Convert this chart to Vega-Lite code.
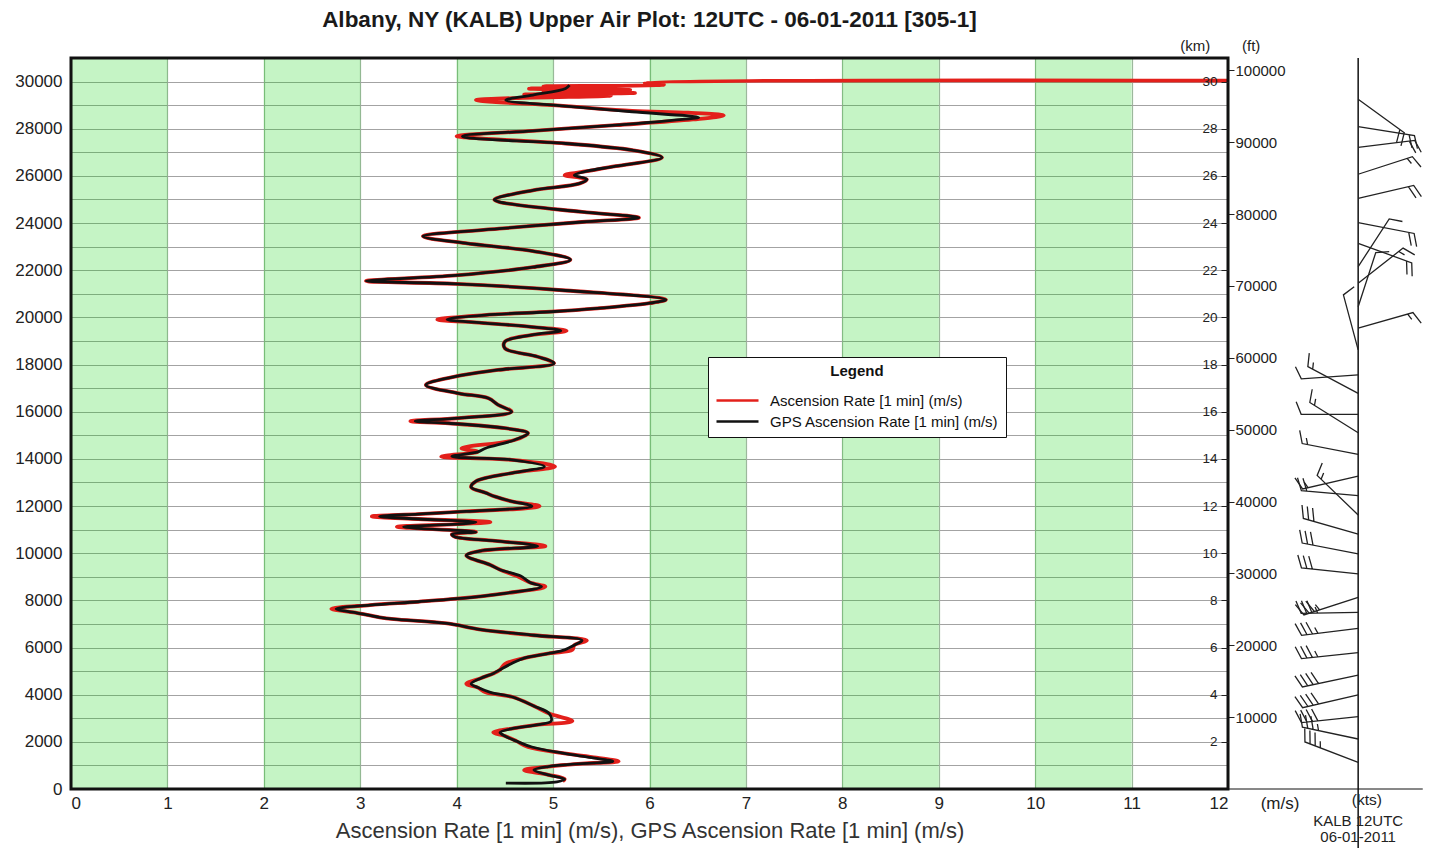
{
  "$schema": "https://vega.github.io/schema/vega-lite/v6.json",
  "width": 1157,
  "height": 731,
  "autosize": {"type": "none"},
  "padding": {"left": 71, "top": 58, "right": 201, "bottom": 59},
  "background": "white",
  "title": {
    "text": "Albany, NY (KALB) Upper Air Plot: 12UTC - 06-01-2011 [305-1]",
    "font": "Liberation Sans",
    "fontSize": 22.5,
    "fontWeight": "bold",
    "color": "#1a1a1a",
    "anchor": "middle",
    "frame": "group",
    "baseline": "alphabetic",
    "offset": 9,
    "dy": 19
  },
  "datasets": {
    "one": [{}],
    "bands": [
      {"from": 0, "to": 1}, {"from": 2, "to": 3}, {"from": 4, "to": 5},
      {"from": 6, "to": 7}, {"from": 8, "to": 9}, {"from": 10, "to": 11}
    ],
    "profile": [
      {"s": "asc", "rate": 5.10, "alt": 330}, {"s": "asc", "rate": 5.12, "alt": 420}, {"s": "asc", "rate": 4.95, "alt": 600}, {"s": "asc", "rate": 4.70, "alt": 800},
      {"s": "asc", "rate": 4.95, "alt": 950}, {"s": "asc", "rate": 5.30, "alt": 1080}, {"s": "asc", "rate": 5.68, "alt": 1170}, {"s": "asc", "rate": 5.45, "alt": 1330},
      {"s": "asc", "rate": 5.10, "alt": 1520}, {"s": "asc", "rate": 4.74, "alt": 1780}, {"s": "asc", "rate": 4.62, "alt": 2030}, {"s": "asc", "rate": 4.50, "alt": 2250},
      {"s": "asc", "rate": 4.38, "alt": 2400}, {"s": "asc", "rate": 4.60, "alt": 2580}, {"s": "asc", "rate": 4.85, "alt": 2730}, {"s": "asc", "rate": 5.20, "alt": 2880},
      {"s": "asc", "rate": 4.96, "alt": 3200}, {"s": "asc", "rate": 4.80, "alt": 3520}, {"s": "asc", "rate": 4.58, "alt": 3900}, {"s": "asc", "rate": 4.30, "alt": 4100},
      {"s": "asc", "rate": 4.22, "alt": 4300}, {"s": "asc", "rate": 4.10, "alt": 4460}, {"s": "asc", "rate": 4.25, "alt": 4700}, {"s": "asc", "rate": 4.38, "alt": 4900},
      {"s": "asc", "rate": 4.45, "alt": 5060}, {"s": "asc", "rate": 4.50, "alt": 5300}, {"s": "asc", "rate": 4.70, "alt": 5550}, {"s": "asc", "rate": 4.97, "alt": 5760},
      {"s": "asc", "rate": 5.20, "alt": 5900}, {"s": "asc", "rate": 5.22, "alt": 6100}, {"s": "asc", "rate": 5.35, "alt": 6300}, {"s": "asc", "rate": 4.80, "alt": 6520},
      {"s": "asc", "rate": 4.25, "alt": 6760}, {"s": "asc", "rate": 3.90, "alt": 7020}, {"s": "asc", "rate": 3.35, "alt": 7200}, {"s": "asc", "rate": 3.20, "alt": 7280},
      {"s": "asc", "rate": 2.95, "alt": 7480}, {"s": "asc", "rate": 2.70, "alt": 7640}, {"s": "asc", "rate": 3.10, "alt": 7800}, {"s": "asc", "rate": 3.60, "alt": 7940},
      {"s": "asc", "rate": 4.00, "alt": 8070}, {"s": "asc", "rate": 4.50, "alt": 8300}, {"s": "asc", "rate": 4.92, "alt": 8580}, {"s": "asc", "rate": 4.76, "alt": 8760},
      {"s": "asc", "rate": 4.62, "alt": 9040}, {"s": "asc", "rate": 4.45, "alt": 9300}, {"s": "asc", "rate": 4.35, "alt": 9500}, {"s": "asc", "rate": 4.10, "alt": 9900},
      {"s": "asc", "rate": 4.25, "alt": 10100}, {"s": "asc", "rate": 4.92, "alt": 10300}, {"s": "asc", "rate": 4.40, "alt": 10520}, {"s": "asc", "rate": 3.98, "alt": 10700},
      {"s": "asc", "rate": 3.95, "alt": 10800}, {"s": "asc", "rate": 4.20, "alt": 10900}, {"s": "asc", "rate": 3.60, "alt": 11050}, {"s": "asc", "rate": 3.38, "alt": 11120},
      {"s": "asc", "rate": 4.00, "alt": 11230}, {"s": "asc", "rate": 4.35, "alt": 11320}, {"s": "asc", "rate": 3.60, "alt": 11450}, {"s": "asc", "rate": 3.12, "alt": 11560},
      {"s": "asc", "rate": 3.60, "alt": 11660}, {"s": "asc", "rate": 4.10, "alt": 11770}, {"s": "asc", "rate": 4.86, "alt": 11990}, {"s": "asc", "rate": 4.57, "alt": 12200},
      {"s": "asc", "rate": 4.40, "alt": 12400}, {"s": "asc", "rate": 4.30, "alt": 12560}, {"s": "asc", "rate": 4.15, "alt": 12800}, {"s": "asc", "rate": 4.20, "alt": 13050},
      {"s": "asc", "rate": 4.57, "alt": 13400}, {"s": "asc", "rate": 5.02, "alt": 13680}, {"s": "asc", "rate": 4.57, "alt": 13960}, {"s": "asc", "rate": 3.84, "alt": 14100},
      {"s": "asc", "rate": 4.22, "alt": 14300}, {"s": "asc", "rate": 4.05, "alt": 14450}, {"s": "asc", "rate": 4.60, "alt": 14800}, {"s": "asc", "rate": 4.74, "alt": 15090},
      {"s": "asc", "rate": 4.50, "alt": 15300}, {"s": "asc", "rate": 3.92, "alt": 15510}, {"s": "asc", "rate": 3.52, "alt": 15600}, {"s": "asc", "rate": 4.02, "alt": 15730},
      {"s": "asc", "rate": 4.57, "alt": 16000}, {"s": "asc", "rate": 4.43, "alt": 16290}, {"s": "asc", "rate": 4.33, "alt": 16570}, {"s": "asc", "rate": 4.02, "alt": 16780},
      {"s": "asc", "rate": 3.68, "alt": 17135}, {"s": "asc", "rate": 3.98, "alt": 17490}, {"s": "asc", "rate": 4.43, "alt": 17770}, {"s": "asc", "rate": 5.01, "alt": 18050},
      {"s": "asc", "rate": 4.84, "alt": 18330}, {"s": "asc", "rate": 4.50, "alt": 18690}, {"s": "asc", "rate": 4.50, "alt": 18970}, {"s": "asc", "rate": 4.77, "alt": 19250},
      {"s": "asc", "rate": 5.14, "alt": 19430}, {"s": "asc", "rate": 4.77, "alt": 19600}, {"s": "asc", "rate": 4.26, "alt": 19770}, {"s": "asc", "rate": 3.80, "alt": 19910},
      {"s": "asc", "rate": 4.29, "alt": 20100}, {"s": "asc", "rate": 4.98, "alt": 20240}, {"s": "asc", "rate": 5.46, "alt": 20380}, {"s": "asc", "rate": 6.00, "alt": 20600},
      {"s": "asc", "rate": 6.17, "alt": 20750}, {"s": "asc", "rate": 5.13, "alt": 21140}, {"s": "asc", "rate": 3.99, "alt": 21425}, {"s": "asc", "rate": 3.06, "alt": 21540},
      {"s": "asc", "rate": 3.99, "alt": 21780}, {"s": "asc", "rate": 4.79, "alt": 22130}, {"s": "asc", "rate": 5.18, "alt": 22445}, {"s": "asc", "rate": 4.79, "alt": 22813},
      {"s": "asc", "rate": 4.09, "alt": 23150}, {"s": "asc", "rate": 3.65, "alt": 23436}, {"s": "asc", "rate": 4.44, "alt": 23760}, {"s": "asc", "rate": 5.30, "alt": 24045},
      {"s": "asc", "rate": 5.89, "alt": 24230}, {"s": "asc", "rate": 5.30, "alt": 24470}, {"s": "asc", "rate": 4.44, "alt": 24895}, {"s": "asc", "rate": 4.39, "alt": 24994},
      {"s": "asc", "rate": 4.79, "alt": 25390}, {"s": "asc", "rate": 5.27, "alt": 25674}, {"s": "asc", "rate": 5.35, "alt": 25850}, {"s": "asc", "rate": 5.12, "alt": 26030},
      {"s": "asc", "rate": 5.35, "alt": 26200}, {"s": "asc", "rate": 5.65, "alt": 26410}, {"s": "asc", "rate": 6.13, "alt": 26780}, {"s": "asc", "rate": 5.82, "alt": 27090},
      {"s": "asc", "rate": 5.13, "alt": 27374}, {"s": "asc", "rate": 4.09, "alt": 27630}, {"s": "asc", "rate": 4.00, "alt": 27686}, {"s": "asc", "rate": 4.79, "alt": 27912},
      {"s": "asc", "rate": 5.65, "alt": 28150}, {"s": "asc", "rate": 6.45, "alt": 28394}, {"s": "asc", "rate": 6.77, "alt": 28560}, {"s": "asc", "rate": 6.40, "alt": 28680},
      {"s": "asc", "rate": 5.82, "alt": 28760}, {"s": "asc", "rate": 5.13, "alt": 28960}, {"s": "asc", "rate": 4.20, "alt": 29215}, {"s": "asc", "rate": 4.60, "alt": 29300},
      {"s": "asc", "rate": 5.60, "alt": 29400}, {"s": "asc", "rate": 4.70, "alt": 29450}, {"s": "asc", "rate": 5.85, "alt": 29520}, {"s": "asc", "rate": 4.90, "alt": 29580},
      {"s": "asc", "rate": 5.80, "alt": 29640}, {"s": "asc", "rate": 4.75, "alt": 29700}, {"s": "asc", "rate": 5.40, "alt": 29760}, {"s": "asc", "rate": 4.90, "alt": 29800},
      {"s": "asc", "rate": 6.15, "alt": 29870}, {"s": "asc", "rate": 5.95, "alt": 29960}, {"s": "asc", "rate": 12.0, "alt": 30040},

      {"s": "gps", "rate": 4.51, "alt": 250}, {"s": "gps", "rate": 5.04, "alt": 300}, {"s": "gps", "rate": 5.12, "alt": 420}, {"s": "gps", "rate": 4.95, "alt": 600},
      {"s": "gps", "rate": 4.80, "alt": 800}, {"s": "gps", "rate": 4.95, "alt": 950}, {"s": "gps", "rate": 5.30, "alt": 1080}, {"s": "gps", "rate": 5.62, "alt": 1170},
      {"s": "gps", "rate": 5.40, "alt": 1330}, {"s": "gps", "rate": 5.10, "alt": 1520}, {"s": "gps", "rate": 4.78, "alt": 1780}, {"s": "gps", "rate": 4.62, "alt": 2030},
      {"s": "gps", "rate": 4.50, "alt": 2250}, {"s": "gps", "rate": 4.45, "alt": 2400}, {"s": "gps", "rate": 4.60, "alt": 2580}, {"s": "gps", "rate": 4.85, "alt": 2730},
      {"s": "gps", "rate": 4.98, "alt": 2880}, {"s": "gps", "rate": 4.96, "alt": 3200}, {"s": "gps", "rate": 4.80, "alt": 3520}, {"s": "gps", "rate": 4.58, "alt": 3900},
      {"s": "gps", "rate": 4.35, "alt": 4100}, {"s": "gps", "rate": 4.22, "alt": 4300}, {"s": "gps", "rate": 4.15, "alt": 4460}, {"s": "gps", "rate": 4.25, "alt": 4700},
      {"s": "gps", "rate": 4.38, "alt": 4900}, {"s": "gps", "rate": 4.45, "alt": 5060}, {"s": "gps", "rate": 4.56, "alt": 5300}, {"s": "gps", "rate": 4.70, "alt": 5550},
      {"s": "gps", "rate": 4.97, "alt": 5760}, {"s": "gps", "rate": 5.12, "alt": 5900}, {"s": "gps", "rate": 5.22, "alt": 6100}, {"s": "gps", "rate": 5.30, "alt": 6300},
      {"s": "gps", "rate": 4.80, "alt": 6520}, {"s": "gps", "rate": 4.25, "alt": 6760}, {"s": "gps", "rate": 3.90, "alt": 7020}, {"s": "gps", "rate": 3.35, "alt": 7200},
      {"s": "gps", "rate": 3.20, "alt": 7280}, {"s": "gps", "rate": 2.95, "alt": 7480}, {"s": "gps", "rate": 2.75, "alt": 7640}, {"s": "gps", "rate": 3.10, "alt": 7800},
      {"s": "gps", "rate": 3.60, "alt": 7940}, {"s": "gps", "rate": 4.00, "alt": 8070}, {"s": "gps", "rate": 4.50, "alt": 8300}, {"s": "gps", "rate": 4.88, "alt": 8580},
      {"s": "gps", "rate": 4.76, "alt": 8760}, {"s": "gps", "rate": 4.66, "alt": 9040}, {"s": "gps", "rate": 4.45, "alt": 9300}, {"s": "gps", "rate": 4.35, "alt": 9500},
      {"s": "gps", "rate": 4.10, "alt": 9900}, {"s": "gps", "rate": 4.25, "alt": 10100}, {"s": "gps", "rate": 4.84, "alt": 10300}, {"s": "gps", "rate": 4.40, "alt": 10520},
      {"s": "gps", "rate": 3.98, "alt": 10700}, {"s": "gps", "rate": 3.95, "alt": 10800}, {"s": "gps", "rate": 4.20, "alt": 10900}, {"s": "gps", "rate": 3.60, "alt": 11050},
      {"s": "gps", "rate": 3.45, "alt": 11120}, {"s": "gps", "rate": 4.00, "alt": 11230}, {"s": "gps", "rate": 4.20, "alt": 11320}, {"s": "gps", "rate": 3.60, "alt": 11450},
      {"s": "gps", "rate": 3.20, "alt": 11560}, {"s": "gps", "rate": 3.60, "alt": 11660}, {"s": "gps", "rate": 4.10, "alt": 11770}, {"s": "gps", "rate": 4.78, "alt": 11990},
      {"s": "gps", "rate": 4.57, "alt": 12200}, {"s": "gps", "rate": 4.40, "alt": 12400}, {"s": "gps", "rate": 4.30, "alt": 12560}, {"s": "gps", "rate": 4.15, "alt": 12800},
      {"s": "gps", "rate": 4.20, "alt": 13050}, {"s": "gps", "rate": 4.57, "alt": 13400}, {"s": "gps", "rate": 4.91, "alt": 13680}, {"s": "gps", "rate": 4.57, "alt": 13960},
      {"s": "gps", "rate": 3.95, "alt": 14100}, {"s": "gps", "rate": 4.22, "alt": 14300}, {"s": "gps", "rate": 4.30, "alt": 14450}, {"s": "gps", "rate": 4.60, "alt": 14800},
      {"s": "gps", "rate": 4.74, "alt": 15090}, {"s": "gps", "rate": 4.50, "alt": 15300}, {"s": "gps", "rate": 3.92, "alt": 15510}, {"s": "gps", "rate": 3.57, "alt": 15600},
      {"s": "gps", "rate": 4.02, "alt": 15730}, {"s": "gps", "rate": 4.57, "alt": 16000}, {"s": "gps", "rate": 4.43, "alt": 16290}, {"s": "gps", "rate": 4.33, "alt": 16570},
      {"s": "gps", "rate": 4.02, "alt": 16780}, {"s": "gps", "rate": 3.68, "alt": 17135}, {"s": "gps", "rate": 3.98, "alt": 17490}, {"s": "gps", "rate": 4.43, "alt": 17770},
      {"s": "gps", "rate": 5.01, "alt": 18050}, {"s": "gps", "rate": 4.84, "alt": 18330}, {"s": "gps", "rate": 4.50, "alt": 18690}, {"s": "gps", "rate": 4.50, "alt": 18970},
      {"s": "gps", "rate": 4.77, "alt": 19250}, {"s": "gps", "rate": 5.08, "alt": 19430}, {"s": "gps", "rate": 4.77, "alt": 19600}, {"s": "gps", "rate": 4.26, "alt": 19770},
      {"s": "gps", "rate": 3.90, "alt": 19910}, {"s": "gps", "rate": 4.29, "alt": 20100}, {"s": "gps", "rate": 4.98, "alt": 20240}, {"s": "gps", "rate": 5.46, "alt": 20380},
      {"s": "gps", "rate": 6.00, "alt": 20600}, {"s": "gps", "rate": 6.17, "alt": 20750}, {"s": "gps", "rate": 5.13, "alt": 21140}, {"s": "gps", "rate": 3.99, "alt": 21425},
      {"s": "gps", "rate": 3.06, "alt": 21540}, {"s": "gps", "rate": 3.99, "alt": 21780}, {"s": "gps", "rate": 4.79, "alt": 22130}, {"s": "gps", "rate": 5.18, "alt": 22445},
      {"s": "gps", "rate": 4.79, "alt": 22813}, {"s": "gps", "rate": 4.09, "alt": 23150}, {"s": "gps", "rate": 3.65, "alt": 23436}, {"s": "gps", "rate": 4.44, "alt": 23760},
      {"s": "gps", "rate": 5.30, "alt": 24045}, {"s": "gps", "rate": 5.89, "alt": 24230}, {"s": "gps", "rate": 5.30, "alt": 24470}, {"s": "gps", "rate": 4.44, "alt": 24895},
      {"s": "gps", "rate": 4.39, "alt": 24994}, {"s": "gps", "rate": 4.79, "alt": 25390}, {"s": "gps", "rate": 5.27, "alt": 25674}, {"s": "gps", "rate": 5.35, "alt": 25850},
      {"s": "gps", "rate": 5.22, "alt": 26030}, {"s": "gps", "rate": 5.35, "alt": 26200}, {"s": "gps", "rate": 5.65, "alt": 26410}, {"s": "gps", "rate": 6.13, "alt": 26780},
      {"s": "gps", "rate": 5.82, "alt": 27090}, {"s": "gps", "rate": 5.13, "alt": 27374}, {"s": "gps", "rate": 4.09, "alt": 27630}, {"s": "gps", "rate": 4.06, "alt": 27686},
      {"s": "gps", "rate": 4.79, "alt": 27912}, {"s": "gps", "rate": 5.65, "alt": 28150}, {"s": "gps", "rate": 6.34, "alt": 28394}, {"s": "gps", "rate": 6.51, "alt": 28479},
      {"s": "gps", "rate": 5.82, "alt": 28720}, {"s": "gps", "rate": 5.13, "alt": 28960}, {"s": "gps", "rate": 4.51, "alt": 29215}, {"s": "gps", "rate": 4.79, "alt": 29430},
      {"s": "gps", "rate": 5.13, "alt": 29710}, {"s": "gps", "rate": 5.17, "alt": 29850}
    ],
    "barbs": [
      {"alt": 1130, "dir": 291, "spd": 35}, {"alt": 2120, "dir": 282, "spd": 35}, {"alt": 3070, "dir": 264, "spd": 40},
      {"alt": 3990, "dir": 257, "spd": 40}, {"alt": 4830, "dir": 258, "spd": 40}, {"alt": 5780, "dir": 264, "spd": 35},
      {"alt": 6810, "dir": 263, "spd": 35}, {"alt": 7490, "dir": 269, "spd": 35}, {"alt": 8130, "dir": 252, "spd": 35},
      {"alt": 9120, "dir": 276, "spd": 30}, {"alt": 9970, "dir": 281, "spd": 30}, {"alt": 10810, "dir": 286, "spd": 30},
      {"alt": 11620, "dir": 314, "spd": 15}, {"alt": 12440, "dir": 275, "spd": 20}, {"alt": 13270, "dir": 257, "spd": 15},
      {"alt": 14190, "dir": 281, "spd": 15}, {"alt": 15110, "dir": 302, "spd": 15}, {"alt": 15890, "dir": 270, "spd": 10},
      {"alt": 16780, "dir": 298, "spd": 15}, {"alt": 17560, "dir": 266, "spd": 10}, {"alt": 18620, "dir": 345, "spd": 10},
      {"alt": 19540, "dir": 74, "spd": 15}, {"alt": 20450, "dir": 18, "spd": 10}, {"alt": 21450, "dir": 52, "spd": 15},
      {"alt": 22150, "dir": 33, "spd": 10}, {"alt": 23140, "dir": 110, "spd": 20}, {"alt": 24020, "dir": 101, "spd": 20},
      {"alt": 25050, "dir": 77, "spd": 20}, {"alt": 26070, "dir": 72, "spd": 15}, {"alt": 27210, "dir": 83, "spd": 20},
      {"alt": 28090, "dir": 99, "spd": 20}, {"alt": 29250, "dir": 126, "spd": 20}
    ]
  },
  "layer": [
    {
      "data": {"name": "bands"},
      "mark": {"type": "rect", "color": "#00cf00", "opacity": 0.2275},
      "encoding": {
        "x": {
          "field": "from", "type": "quantitative",
          "scale": {"domain": [0, 12], "nice": false, "zero": false},
          "axis": {
            "orient": "bottom", "tickCount": 12, "format": "d",
            "grid": true, "gridColor": "#9cb89c", "gridWidth": 1.2,
            "ticks": false, "domain": false,
            "labelFontSize": 17, "labelColor": "#222", "labelPadding": 6,
            "title": "Ascension Rate [1 min] (m/s), GPS Ascension Rate [1 min] (m/s)",
            "titleFontSize": 22, "titleFontWeight": "normal", "titleColor": "#333", "titlePadding": 9
          }
        },
        "x2": {"field": "to"}
      }
    },
    {
      "data": {"name": "profile"},
      "transform": [{"filter": "datum.s == 'asc'"}],
      "mark": {"type": "line", "strokeWidth": 3.8, "interpolate": "catmull-rom"},
      "encoding": {
        "x": {"field": "rate", "type": "quantitative", "scale": {"domain": [0, 12], "nice": false, "zero": false}, "axis": null},
        "y": {
          "field": "alt", "type": "quantitative",
          "scale": {"domain": [0, 31000], "nice": false, "zero": false},
          "axis": {
            "orient": "left", "tickCount": 31,
            "labelExpr": "datum.value % 2000 == 0 && datum.value <= 30000 ? format(datum.value, 'd') : ''",
            "grid": true, "gridColor": "#a3a3a3", "gridWidth": 1.2,
            "ticks": false, "domain": false,
            "labelFontSize": 17, "labelColor": "#222", "labelPadding": 9,
            "title": null
          }
        },
        "order": {"field": "alt", "type": "quantitative"},
        "color": {
          "field": "s", "type": "nominal",
          "scale": {"domain": ["asc", "gps"], "range": ["#e3201b", "#111111"]},
          "legend": {
            "orient": "none", "legendX": 637, "legendY": 299,
            "title": "Legend", "titleAnchor": "middle", "titleFontSize": 15, "titleFontWeight": "bold",
            "titleColor": "#111", "titlePadding": 10,
            "labelExpr": "datum.label == 'asc' ? 'Ascension Rate [1 min] (m/s)' : 'GPS Ascension Rate [1 min] (m/s)'",
            "labelFontSize": 15, "labelColor": "#111", "labelOffset": 32, "labelLimit": 400,
            "symbolType": "M-1,0L3.2,0", "symbolSize": 400, "symbolStrokeWidth": 2.5,
            "padding": 7, "rowPadding": 1,
            "strokeColor": "#111", "fillColor": "white"
          }
        }
      }
    },
    {
      "data": {"name": "profile"},
      "transform": [{"filter": "datum.s == 'gps'"}],
      "mark": {"type": "line", "strokeWidth": 2.8, "interpolate": "catmull-rom"},
      "encoding": {
        "x": {"field": "rate", "type": "quantitative", "scale": {"domain": [0, 12], "nice": false, "zero": false}, "axis": null},
        "y": {
          "field": "alt", "type": "quantitative",
          "scale": {"domain": [0, 31000], "nice": false, "zero": false},
          "axis": {
            "orient": "left", "offset": -1157, "zindex": 2,
            "values": [2000, 4000, 6000, 8000, 10000, 12000, 14000, 16000, 18000, 20000, 22000, 24000, 26000, 28000, 30000],
            "labelExpr": "format(datum.value / 1000, 'd')",
            "grid": false, "domain": false,
            "tickSize": 7, "tickColor": "#222", "tickWidth": 1,
            "labelFontSize": 13.5, "labelColor": "#222", "labelPadding": 4,
            "title": null
          }
        },
        "order": {"field": "alt", "type": "quantitative"},
        "color": {"field": "s", "type": "nominal", "scale": {"domain": ["asc", "gps"], "range": ["#e3201b", "#111111"]}, "legend": null}
      }
    },
    {
      "data": {"name": "one"},
      "mark": {"type": "rect", "filled": false, "stroke": "#111", "strokeWidth": 3},
      "encoding": {
        "x": {"datum": 0, "type": "quantitative", "scale": {"domain": [0, 12], "nice": false, "zero": false}, "axis": null},
        "x2": {"datum": 12},
        "y": {"datum": 0, "type": "quantitative", "scale": {"domain": [0, 31000], "nice": false, "zero": false}, "axis": null},
        "y2": {"datum": 31000}
      }
    },
    {
      "data": {"name": "one"},
      "mark": {"type": "rule", "color": "#111", "strokeWidth": 1.5},
      "encoding": {
        "x": {"datum": 13.35, "type": "quantitative", "scale": {"domain": [0, 12], "nice": false, "zero": false}, "axis": null},
        "y": {"datum": 31000, "type": "quantitative", "scale": {"domain": [0, 31000], "nice": false, "zero": false}, "axis": null},
        "y2": {"datum": -2500}
      }
    },
    {
      "data": {"name": "one"},
      "mark": {"type": "rule", "color": "#111", "strokeWidth": 1},
      "encoding": {
        "x": {"datum": 12, "type": "quantitative", "scale": {"domain": [0, 12], "nice": false, "zero": false}, "axis": null},
        "x2": {"datum": 14.02},
        "y": {"datum": 0, "type": "quantitative", "scale": {"domain": [0, 31000], "nice": false, "zero": false}, "axis": null}
      }
    },
    {
      "data": {"name": "barbs"},
      "mark": {"type": "point", "filled": false, "color": "#222", "strokeWidth": 1.3, "size": 400, "opacity": 1},
      "encoding": {
        "x": {"datum": 13.35, "type": "quantitative", "scale": {"domain": [0, 12], "nice": false, "zero": false}, "axis": null},
        "y": {
          "field": "alt", "type": "quantitative",
          "scale": {"domain": [0, 31000], "nice": false, "zero": false},
          "axis": {
            "orient": "right",
            "values": [3048, 6096, 9144, 12192, 15240, 18288, 21336, 24384, 27432, 30480],
            "labelExpr": "format(round(datum.value / 0.3048), 'd')",
            "grid": false, "domain": false,
            "tickSize": 6, "tickColor": "#222", "tickWidth": 1,
            "labelFontSize": 15, "labelColor": "#222", "labelPadding": 1,
            "title": null
          }
        },
        "angle": {"field": "dir", "type": "quantitative", "scale": {"domain": [0, 360], "range": [0, 360]}, "legend": null},
        "shape": {
          "field": "spd", "type": "nominal", "legend": null,
          "scale": {
            "domain": [10, 15, 20, 25, 30, 35, 40],
            "range": [
              "M0,0L0,-5.7L1.25,-6.2",
              "M0,0L0,-5.7L1.25,-6.2M0,-5.15L0.62,-5.4",
              "M0,0L0,-5.7L1.25,-6.2M0,-5.15L1.25,-5.65",
              "M0,0L0,-5.7L1.25,-6.2M0,-5.15L1.25,-5.65M0,-4.6L0.62,-4.85",
              "M0,0L0,-5.7L1.25,-6.2M0,-5.15L1.25,-5.65M0,-4.6L1.25,-5.1",
              "M0,0L0,-5.7L1.25,-6.2M0,-5.15L1.25,-5.65M0,-4.6L1.25,-5.1M0,-4.05L0.62,-4.3",
              "M0,0L0,-5.7L1.25,-6.2M0,-5.15L1.25,-5.65M0,-4.6L1.25,-5.1M0,-4.05L1.25,-4.55"
            ]
          }
        }
      }
    },
    {
      "data": {"name": "one"},
      "mark": {"type": "text", "text": "(km)", "fontSize": 15, "color": "#222", "dy": -12, "baseline": "middle", "align": "center"},
      "encoding": {
        "x": {"datum": 11.66, "type": "quantitative", "scale": {"domain": [0, 12], "nice": false, "zero": false}, "axis": null},
        "y": {"datum": 31000, "type": "quantitative", "scale": {"domain": [0, 31000], "nice": false, "zero": false}, "axis": null}
      }
    },
    {
      "data": {"name": "one"},
      "mark": {"type": "text", "text": "(ft)", "fontSize": 15, "color": "#222", "dy": -12, "baseline": "middle", "align": "center"},
      "encoding": {
        "x": {"datum": 12.24, "type": "quantitative", "scale": {"domain": [0, 12], "nice": false, "zero": false}, "axis": null},
        "y": {"datum": 31000, "type": "quantitative", "scale": {"domain": [0, 31000], "nice": false, "zero": false}, "axis": null}
      }
    },
    {
      "data": {"name": "one"},
      "mark": {"type": "text", "text": "(m/s)", "fontSize": 17, "color": "#222", "dy": 15, "baseline": "middle", "align": "center"},
      "encoding": {
        "x": {"datum": 12.54, "type": "quantitative", "scale": {"domain": [0, 12], "nice": false, "zero": false}, "axis": null},
        "y": {"datum": 0, "type": "quantitative", "scale": {"domain": [0, 31000], "nice": false, "zero": false}, "axis": null}
      }
    },
    {
      "data": {"name": "one"},
      "mark": {"type": "text", "text": "(kts)", "fontSize": 15.5, "color": "#222", "dy": 11, "baseline": "middle", "align": "center"},
      "encoding": {
        "x": {"datum": 13.44, "type": "quantitative", "scale": {"domain": [0, 12], "nice": false, "zero": false}, "axis": null},
        "y": {"datum": 0, "type": "quantitative", "scale": {"domain": [0, 31000], "nice": false, "zero": false}, "axis": null}
      }
    },
    {
      "data": {"name": "one"},
      "mark": {"type": "text", "text": ["KALB  12UTC", "06-01-2011"], "fontSize": 15, "lineHeight": 16, "color": "#222", "dy": 25, "baseline": "top", "align": "center"},
      "encoding": {
        "x": {"datum": 13.35, "type": "quantitative", "scale": {"domain": [0, 12], "nice": false, "zero": false}, "axis": null},
        "y": {"datum": 0, "type": "quantitative", "scale": {"domain": [0, 31000], "nice": false, "zero": false}, "axis": null}
      }
    }
  ],
  "resolve": {"axis": {"x": "independent", "y": "independent"}},
  "config": {
    "font": "Liberation Sans",
    "view": {"stroke": null},
    "axis": {"labelFont": "Liberation Sans", "titleFont": "Liberation Sans"},
    "legend": {"labelFont": "Liberation Sans", "titleFont": "Liberation Sans"},
    "text": {"font": "Liberation Sans"}
  }
}
